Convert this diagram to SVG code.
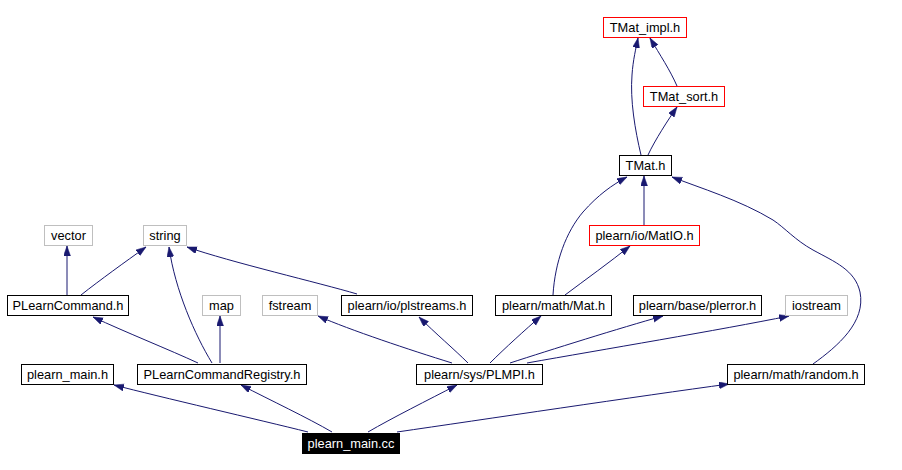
<svg xmlns="http://www.w3.org/2000/svg" width="902" height="470" viewBox="0 0 902 470">
<style>
.n rect{fill:#fff;stroke:#000;stroke-width:1}
.g rect{stroke:#bfbfbf}
.r rect{stroke:#ff0000}
text{font-family:"Liberation Sans",Arial,sans-serif;font-size:12.8px;text-anchor:middle;fill:#000}
.e path{fill:none;stroke:#191970;stroke-width:1;marker-end:url(#a)}
</style>
<defs>
<marker id="a" markerUnits="userSpaceOnUse" markerWidth="11" markerHeight="8" refX="10" refY="3.5" orient="auto">
<path d="M0,0 L10,3.5 L0,7 z" fill="#191970" stroke="#191970" stroke-width="0.5"/>
</marker>
</defs>
<rect width="902" height="470" fill="#fff"/>
<g id="edges" class="e">
<path d="M308,432 C260,420 160,397 114,385"/>
<path d="M332,432 C308,418 270,400 241,385"/>
<path d="M368,432 C392,418 428,400 457,385"/>
<path d="M397,432 C480,420 640,396 729,384"/>
<path d="M198,363 C170,350 125,332 93,317"/>
<path d="M212,363 C195,335 175,290 169,247"/>
<path d="M220,363 L220,316"/>
<path d="M67,295 L67,246"/>
<path d="M81,295 C100,280 125,262 146,247"/>
<path d="M357,294 C320,283 230,262 187,247"/>
<path d="M452,363 C410,350 350,330 318,316"/>
<path d="M468,363 C455,350 435,333 419,317"/>
<path d="M490,363 C505,348 525,330 541,316"/>
<path d="M510,363 C550,350 620,328 663,316"/>
<path d="M527,363 C600,350 720,330 789,316"/>
<path d="M553,295 C555,262 566,232 583,212 C598,195 612,185 627,177"/>
<path d="M565,295 C585,280 610,262 630,246"/>
<path d="M644,225 L644,176"/>
<path d="M813,364 C838,346 866,322 860,292 C855,270 835,262 813,250 C795,240 785,228 773,220 C740,200 700,188 672,177"/>
<path d="M641,155 C635,130 630,100 632,75 C633,60 636,48 638,38"/>
<path d="M648,155 C655,140 668,120 677,107"/>
<path d="M677,86 C670,70 660,55 650,38"/>
</g>
<g id="TMat_impl" class="n r"><rect x="603.5" y="17.5" width="83" height="20"/><text x="645" y="32">TMat_impl.h</text></g>
<g id="TMat_sort" class="n r"><rect x="643.5" y="86.5" width="81" height="20"/><text x="684" y="101">TMat_sort.h</text></g>
<g id="TMat" class="n"><rect x="619.5" y="155.5" width="52" height="20"/><text x="645.5" y="170">TMat.h</text></g>
<g id="MatIO" class="n r"><rect x="589.5" y="225.5" width="110" height="20"/><text x="644.5" y="240">plearn/io/MatIO.h</text></g>
<g id="vector" class="n g"><rect x="44.5" y="225.5" width="48" height="20"/><text x="68.5" y="240">vector</text></g>
<g id="string" class="n g"><rect x="143.5" y="225.5" width="43" height="20"/><text x="165" y="240">string</text></g>
<g id="PLearnCommand" class="n"><rect x="7.5" y="295.5" width="121" height="20"/><text x="68" y="310">PLearnCommand.h</text></g>
<g id="map" class="n g"><rect x="202.5" y="295.5" width="38" height="20"/><text x="221.5" y="310">map</text></g>
<g id="fstream" class="n g"><rect x="262.5" y="295.5" width="55" height="20"/><text x="290" y="310">fstream</text></g>
<g id="plstreams" class="n"><rect x="341.5" y="295.5" width="131" height="20"/><text x="407" y="310">plearn/io/plstreams.h</text></g>
<g id="Mat" class="n"><rect x="495.5" y="295.5" width="116" height="20"/><text x="553.5" y="310">plearn/math/Mat.h</text></g>
<g id="plerror" class="n"><rect x="633.5" y="295.5" width="128" height="20"/><text x="697.5" y="310">plearn/base/plerror.h</text></g>
<g id="iostream" class="n g"><rect x="785.5" y="295.5" width="62" height="20"/><text x="816.5" y="310">iostream</text></g>
<g id="plearn_main_h" class="n"><rect x="21.5" y="364.5" width="92" height="20"/><text x="67.5" y="379">plearn_main.h</text></g>
<g id="Registry" class="n"><rect x="137.5" y="364.5" width="169" height="20"/><text x="222" y="379">PLearnCommandRegistry.h</text></g>
<g id="PLMPI" class="n"><rect x="416.5" y="364.5" width="126" height="20"/><text x="479.5" y="379">plearn/sys/PLMPI.h</text></g>
<g id="random" class="n"><rect x="727.5" y="364.5" width="137" height="20"/><text x="796" y="379">plearn/math/random.h</text></g>
<g id="plearn_main_cc"><rect x="302" y="433" width="98" height="21" fill="#000"/><text x="351" y="448" style="fill:#fff">plearn_main.cc</text></g>
</svg>
